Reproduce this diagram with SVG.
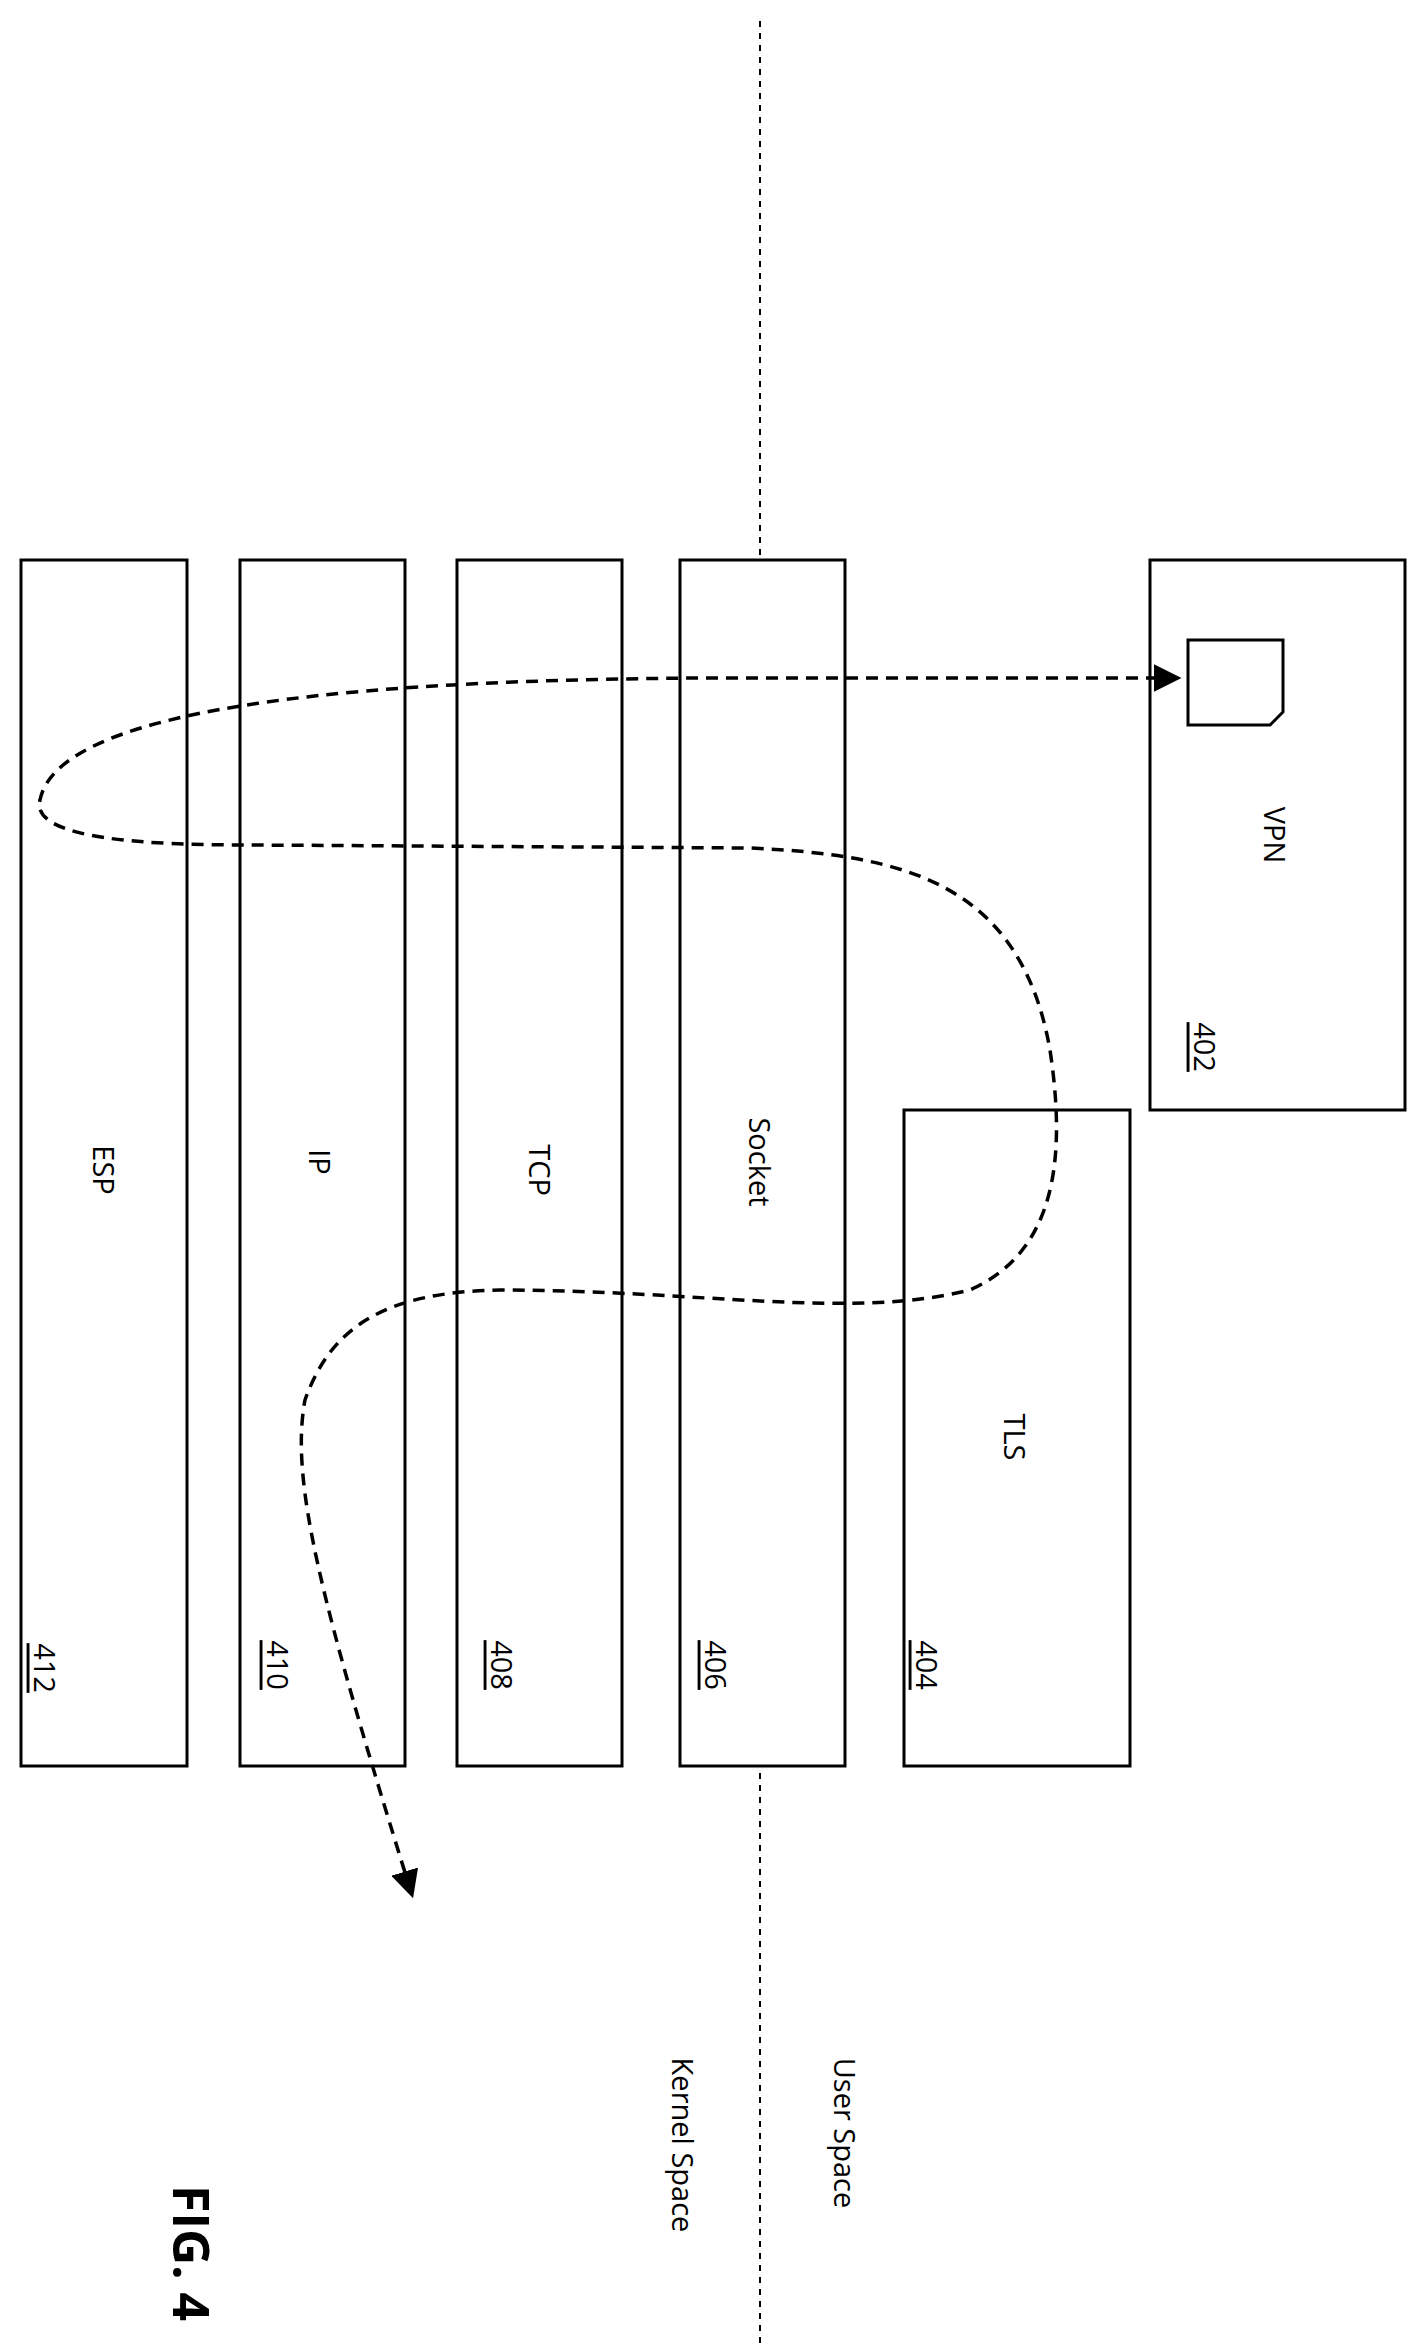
<svg xmlns="http://www.w3.org/2000/svg" width="1425" height="2347" viewBox="0 0 1425 2347">
<style>
.b{fill:#fff;stroke:#000;stroke-width:3}
text{font-family:"Open Sans","Liberation Sans",sans-serif;font-size:29px;text-anchor:middle;dominant-baseline:central}
.n{text-decoration:underline}
.d{fill:none;stroke:#000;stroke-width:2;stroke-dasharray:6,6}
</style>
<defs>
<marker id="a" markerWidth="8" markerHeight="8" refX="7" refY="4" orient="auto-start-reverse" markerUnits="strokeWidth"><path d="M0,0 L8,4 L0,8 z"/></marker>
</defs>
<g id="divider">
<line class="d" x1="760" y1="21" x2="760" y2="555"/>
<line class="d" x1="760" y1="1773" x2="760" y2="2347"/>
</g>
<g id="n412"><rect class="b" x="21" y="560" width="166" height="1206"/><text transform="rotate(90 104 1170)" x="104" y="1170">ESP</text><text class="n" transform="rotate(90 45 1668)" x="45" y="1668">412</text></g>
<g id="n410"><rect class="b" x="240" y="560" width="165" height="1206"/><text transform="rotate(90 320 1162)" x="320" y="1162">IP</text><text class="n" transform="rotate(90 278 1665)" x="278" y="1665">410</text></g>
<g id="n408"><rect class="b" x="457" y="560" width="165" height="1206"/><text transform="rotate(90 540 1170)" x="540" y="1170">TCP</text><text class="n" transform="rotate(90 502 1665)" x="502" y="1665">408</text></g>
<g id="n406"><rect class="b" x="680" y="560" width="165" height="1206"/><text transform="rotate(90 760 1162)" x="760" y="1162">Socket</text><text class="n" transform="rotate(90 716 1665)" x="716" y="1665">406</text></g>
<g id="n404"><rect class="b" x="904" y="1110" width="226" height="656"/><text transform="rotate(90 1015 1437)" x="1015" y="1437">TLS</text><text class="n" transform="rotate(90 927 1665)" x="927" y="1665">404</text></g>
<g id="n402"><rect class="b" x="1150" y="560" width="255" height="550"/><text transform="rotate(90 1275 835)" x="1275" y="835">VPN</text><text class="n" transform="rotate(90 1205 1047)" x="1205" y="1047">402</text>
<path d="M1188,640 L1283,640 L1283,712 L1270,725 L1188,725 Z" fill="#fff" stroke="#000" stroke-width="3"/></g>
<g id="connectors">
<path d="M1178,678 L700,678 C400,680 60,700 40,800 C30,840 150,845 250,845 L750,848 C900,855 1020,880 1050,1050 C1065,1150 1060,1250 970,1290 C850,1320 700,1290 500,1290 C380,1292 330,1330 305,1400 C290,1480 320,1600 412,1895" fill="none" stroke="#000" stroke-width="3.5" stroke-dasharray="12,8" marker-start="url(#a)" marker-end="url(#a)"/>
</g>
<g id="labels">
<text transform="rotate(90 845 2133)" x="845" y="2133">User Space</text>
<text transform="rotate(90 683 2145)" x="683" y="2145">Kernel Space</text>
<text transform="rotate(90 192 2253)" x="192" y="2253" style="font-weight:bold;font-size:50px">FIG. 4</text>
</g>
</svg>
